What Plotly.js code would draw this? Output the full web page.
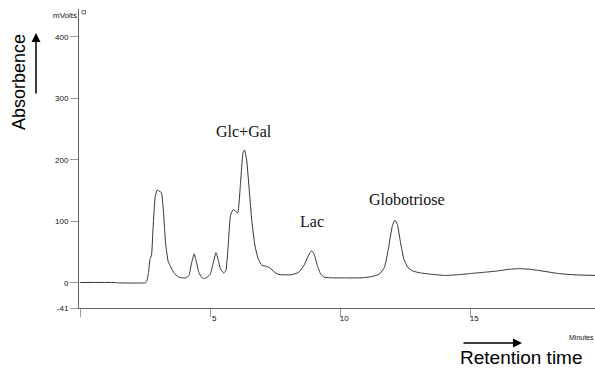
<!DOCTYPE html>
<html>
<head>
<meta charset="utf-8">
<script src="https://cdn.plot.ly/plotly-3.0.1.min.js"></script>
<style>html,body{margin:0;padding:0;background:#fff;}#chart{width:595px;height:369px;}</style>
</head>
<body>
<div id="chart"></div>
<script>
// Retention time (minutes)
var timeMin = [0.0,1.3,1.4,2.5,2.55,2.62,2.68,2.74,2.8,2.88,2.96,3.04,3.12,3.2,3.28,3.38,3.5,3.62,3.75,3.9,4.05,4.18,4.28,4.38,4.46,4.56,4.66,4.76,4.88,5.0,5.1,5.22,5.3,5.4,5.52,5.6,5.68,5.78,5.88,5.98,6.06,6.16,6.26,6.32,6.4,6.5,6.6,6.72,6.85,7.0,7.15,7.3,7.45,7.6,7.8,8.1,8.4,8.6,8.78,8.9,9.0,9.12,9.25,9.4,9.7,10.2,10.8,11.2,11.5,11.7,11.85,12.0,12.1,12.2,12.32,12.45,12.6,12.8,13.1,13.5,14.0,14.5,15.0,15.5,16.0,16.5,16.9,17.3,17.8,18.4,19.0,19.8];
// Detector signal (mVolts)
var signalMv = [0.5,0.5,0,0,2,15,38,45,90,140,151,149,147,115,65,35,24,15,10,8,8,12,32,47,35,17,9,7,9,14,30,49,38,22,16,20,55,110,119,116,114,160,212,216,200,150,100,60,38,28,27,24,18,14,13,13,17,28,45,52,46,28,14,9,8,8,8,10,14,25,55,92,102,95,65,38,25,19,16,14,12,13,15,17,19,22,23,22,19,15,13,12];

var yTickVals = [-41,0,100,200,300,400];
var yTickText = ["-41","0","100","200","300","400"];
var xTickVals = [0,5,10,15];
var xTickText = ["","5","10","15"];

// Peak labels
var peakNames = ["Glc+Gal","Lac","Globotriose"];
var peakLabelX = [6.3,8.9,12.55];
var peakLabelY = [247,99,135];

var L = 79, T = 9, W = 516, H = 299;
function px(x){return (x-L)/W;}
function py(y){return (T+H-y)/H;}

var annotations = [];
for (var i=0;i<peakNames.length;i++){
  annotations.push({x:peakLabelX[i], y:peakLabelY[i], xref:'x', yref:'y', text:peakNames[i], showarrow:false,
    xanchor:'center', yanchor:'middle',
    font:{family:'Liberation Serif, Times New Roman, serif', size:16, color:'#111'}});
}
annotations.push({x:px(65), y:py(16), xref:'paper', yref:'paper', xanchor:'center', yanchor:'middle', text:'mVolts', showarrow:false,
  font:{family:'Liberation Sans, Arial, sans-serif', size:8, color:'#111'}});
annotations.push({x:px(596), y:py(337), xref:'paper', yref:'paper', xanchor:'right', yanchor:'middle', text:'Minutes', showarrow:false,
  font:{family:'Liberation Sans, Arial, sans-serif', size:7, color:'#111'}});
annotations.push({x:px(19), y:py(82), xref:'paper', yref:'paper', xanchor:'center', yanchor:'middle', text:'Absorbence', textangle:-90, showarrow:false,
  font:{family:'Liberation Sans, Arial, sans-serif', size:18, color:'#000'}});
annotations.push({x:px(521), y:py(357), xref:'paper', yref:'paper', xanchor:'center', yanchor:'middle', text:'Retention time', showarrow:false,
  font:{family:'Liberation Sans, Arial, sans-serif', size:19, color:'#000'}});
// arrows
annotations.push({x:px(36), y:py(33), xref:'paper', yref:'paper', text:'', showarrow:true, ax:0, ay:62,
  arrowhead:2, arrowsize:1.2, arrowwidth:1.5, arrowcolor:'#000'});
annotations.push({x:px(522), y:py(343), xref:'paper', yref:'paper', text:'', showarrow:true, ax:-60, ay:0,
  arrowhead:2, arrowsize:1.2, arrowwidth:1.5, arrowcolor:'#000'});

var trace = {x:timeMin, y:signalMv, type:'scatter', mode:'lines',
  line:{color:'#333', width:1, shape:'spline', smoothing:0.4}, hoverinfo:'none'};

var layout = {
  width:595, height:369,
  margin:{l:L, r:0, t:T, b:61, pad:0},
  paper_bgcolor:'#fff', plot_bgcolor:'#fff',
  showlegend:false,
  font:{family:'Liberation Sans, Arial, sans-serif', size:8, color:'#111'},
  xaxis:{range:[-0.05,19.8], showgrid:false, zeroline:false, showline:true, linecolor:'#666', linewidth:1,
    tickmode:'array', tickvals:xTickVals, ticktext:xTickText, ticks:'outside', ticklen:8, tickcolor:'#999', tickwidth:1,
    ticklabelshift:4, ticklabelstandoff:-6, tickfont:{size:8, color:'#111'}},
  yaxis:{range:[-41,445.5], showgrid:false, zeroline:false, showline:true, linecolor:'#666', linewidth:1,
    tickmode:'array', tickvals:yTickVals, ticktext:yTickText, ticks:'outside', ticklen:8, tickcolor:'#999', tickwidth:1,
    tickfont:{size:8, color:'#111'}},
  annotations:annotations,
  shapes:[{type:'rect', xref:'paper', yref:'paper', x0:px(82), x1:px(85.5), y0:py(14), y1:py(10.5),
    line:{color:'#555', width:0.8}, fillcolor:'rgba(0,0,0,0)'}]
};

Plotly.newPlot('chart', [trace], layout, {displayModeBar:false, staticPlot:true});
</script>
</body>
</html>
